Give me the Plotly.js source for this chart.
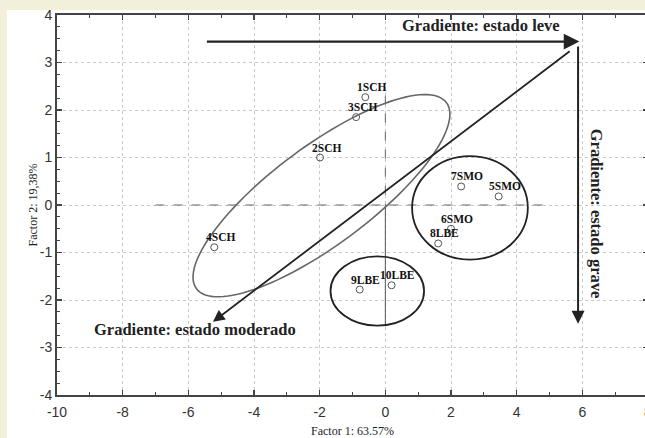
<!DOCTYPE html>
<html>
<head>
<meta charset="utf-8">
<script src="https://cdn.plot.ly/plotly-3.0.1.min.js"></script>
<style>
  html, body { margin: 0; padding: 0; background: #f2f0db; overflow: hidden; width: 645px; height: 438px; }
  #bg { position: absolute; left: 7px; top: 10px; width: 660px; height: 440px; background: #fff; }
  #chart { position: absolute; left: 0; top: 0; width: 707px; height: 438px; }
</style>
</head>
<body>
<div id="bg"></div>
<div id="chart"></div>
<script>
// ---- data ----
const categories = ['1SCH', '2SCH', '3SCH', '4SCH', '5SMO', '6SMO', '7SMO', '8LBE', '9LBE', '10LBE'];
const factor1 = [-0.61, -1.99, -0.89, -5.21, 3.45, 2.00, 2.31, 1.61, -0.78, 0.19];
const factor2 = [2.27, 1.00, 1.85, -0.89, 0.18, -0.50, 0.39, -0.81, -1.78, -1.69];
const xTickVals = [-10, -8, -6, -4, -2, 0, 2, 4, 6, 8];
const yTickVals = [-4, -3, -2, -1, 0, 1, 2, 3, 4];
const xTitle = 'Factor 1: 63.57%';
const yTitle = 'Factor 2: 19,38%';
const gradientLabels = ['Gradiente: estado leve', 'Gradiente: estado grave', 'Gradiente: estado moderado'];

// ---- layout geometry ----
const W = 707, H = 438;
const M = { l: 56.5, r: 58.5, t: 15, b: 43 };
const xRange = [-10, 8], yRange = [-4, 4];
const pxX = (W - M.l - M.r) / (xRange[1] - xRange[0]);
const pxY = (H - M.t - M.b) / (yRange[1] - yRange[0]);

// big rotated ellipse (pixel-space axes)
const bigEll = { cx: -1.945, cy: 0.196, a: 156, b: 49.4, deg: 36.6 };
function ellipsePath(e) {
  const th = e.deg * Math.PI / 180;
  let s = '';
  for (let i = 0; i <= 120; i++) {
    const t = 2 * Math.PI * i / 120;
    const u = e.a * Math.cos(t), v = e.b * Math.sin(t);
    const dx = u * Math.cos(th) - v * Math.sin(th);
    const dy = u * Math.sin(th) + v * Math.cos(th);
    const x = e.cx + dx / pxX, y = e.cy + dy / pxY;
    s += (i === 0 ? 'M ' : ' L ') + x.toFixed(4) + ',' + y.toFixed(4);
  }
  return s + ' Z';
}

const serif = 'Liberation Serif, Times New Roman, serif';
const sans = 'Liberation Sans, Arial, sans-serif';

const trace = {
  type: 'scatter', mode: 'markers',
  x: factor1, y: factor2,
  marker: { symbol: 'circle-open', size: 7, color: '#555', line: { width: 1, color: '#555' } },
  hoverinfo: 'skip', showlegend: false
};

const pointLabels = categories.map((c, i) => ({
  x: factor1[i], y: factor2[i], xref: 'x', yref: 'y', text: c, showarrow: false,
  xshift: 6, yshift: 10, xanchor: 'center', yanchor: 'middle',
  font: { family: serif, size: 11.5, color: '#111', weight: 'bold' }
}));

const arrows = [
  { x: 5.91, y: 3.44, ax: -5.48, ay: 3.44, w: 2.4 },
  { x: 5.87, y: -2.5, ax: 5.87, ay: 3.37, w: 2 },
  { x: -5.25, y: -2.46, ax: 5.66, ay: 3.26, w: 1.8 }
].map(a => ({
  x: a.x, y: a.y, ax: a.ax, ay: a.ay, xref: 'x', yref: 'y', axref: 'x', ayref: 'y',
  text: '', showarrow: true, arrowhead: 2, arrowsize: 1.3, arrowwidth: a.w, arrowcolor: '#222'
}));

const gradText = [
  { x: 2.9, y: 3.77, text: gradientLabels[0], textangle: 0 },
  { x: 6.44, y: -0.18, text: gradientLabels[1], textangle: 90 },
  { x: -5.81, y: -2.62, text: gradientLabels[2], textangle: 0 }
].map(g => ({
  x: g.x, y: g.y, xref: 'x', yref: 'y', text: g.text, textangle: g.textangle, showarrow: false,
  xanchor: 'center', yanchor: 'middle',
  font: { family: serif, size: 16.5, color: '#222', weight: 'bold' }
}));

const shapes = [
  { type: 'line', xref: 'x', yref: 'y', x0: -7, x1: 5.06, y0: 0, y1: 0, line: { color: '#666', width: 1, dash: 'dash' } },
  { type: 'line', xref: 'x', yref: 'y', x0: 0, x1: 0, y0: 2.3, y1: 0, line: { color: '#666', width: 1, dash: 'dash' } },
  { type: 'line', xref: 'x', yref: 'y', x0: 0, x1: 0, y0: 0, y1: -2.55, line: { color: '#555', width: 1 } },
  { type: 'path', xref: 'x', yref: 'y', path: ellipsePath(bigEll), line: { color: '#666', width: 1.6 } },
  { type: 'circle', xref: 'x', yref: 'y', x0: 0.815, x1: 4.34, y0: -1.15, y1: 1.03, line: { color: '#222', width: 1.8 } },
  { type: 'circle', xref: 'x', yref: 'y', x0: -1.67, x1: 1.18, y0: -2.54, y1: -1.08, line: { color: '#222', width: 1.8 } }
];

const axisCommon = {
  showline: true, linecolor: '#444', linewidth: 2, mirror: 'ticks',
  ticks: 'inside', ticklen: 5, tickcolor: '#444', tickwidth: 1.2,
  showgrid: true, gridcolor: '#c8c8c8', griddash: 'dot', gridwidth: 1,
  zeroline: false, tickfont: { family: sans, size: 14, color: '#333' },
  fixedrange: true
};

const layout = {
  width: W, height: H, margin: M,
  paper_bgcolor: 'rgba(0,0,0,0)', plot_bgcolor: '#fff', showlegend: false,
  xaxis: Object.assign({}, axisCommon, {
    range: xRange, tickvals: xTickVals, ticktext: xTickVals.map(String),
    ticklabelstandoff: 3,
    minor: { dtick: 1, ticks: 'inside', ticklen: 3, tickcolor: '#444', showgrid: false },
    title: { text: xTitle, standoff: 10, font: { family: serif, size: 12, color: '#222' } }
  }),
  yaxis: Object.assign({}, axisCommon, {
    range: yRange, tickvals: yTickVals, ticktext: yTickVals.map(String),
    minor: { dtick: 0.25, ticks: 'inside', ticklen: 3, tickcolor: '#444', showgrid: false },
    title: { text: yTitle, standoff: 0, font: { family: serif, size: 12, color: '#222' } }
  }),
  shapes: shapes,
  annotations: pointLabels.concat(arrows, gradText)
};

Plotly.newPlot('chart', [trace], layout, { displayModeBar: false, staticPlot: true });
</script>
</body>
</html>
